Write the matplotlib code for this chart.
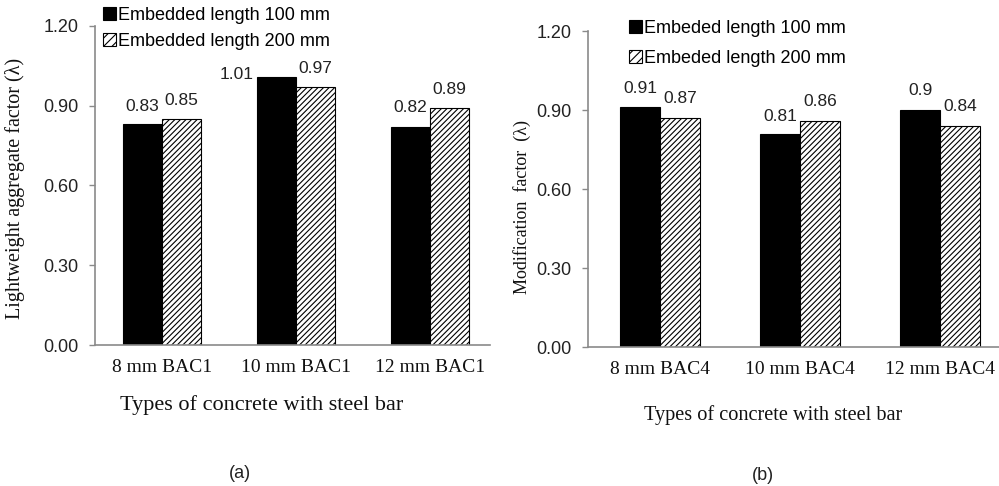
import matplotlib
matplotlib.use("Agg")
import matplotlib.pyplot as plt
from matplotlib.patches import Patch

categories_a = ["8 mm BAC1", "10 mm BAC1", "12 mm BAC1"]
len100_a = [0.83, 1.01, 0.82]
len200_a = [0.85, 0.97, 0.89]
labels100_a = ["0.83", "1.01", "0.82"]
labels200_a = ["0.85", "0.97", "0.89"]

categories_b = ["8 mm BAC4", "10 mm BAC4", "12 mm BAC4"]
len100_b = [0.91, 0.81, 0.90]
len200_b = [0.87, 0.86, 0.84]
labels100_b = ["0.91", "0.81", "0.9"]
labels200_b = ["0.87", "0.86", "0.84"]

yticks = [0.0, 0.3, 0.6, 0.9, 1.2]
ytick_labels = ["0.00", "0.30", "0.60", "0.90", "1.20"]

plt.rcParams['hatch.linewidth'] = 0.8
plt.rcParams['hatch.color'] = 'black'

SANS = ['Liberation Sans', 'DejaVu Sans']
SERIF = ['Liberation Serif', 'DejaVu Serif']
GRAY = '#8a8a8a'

fig = plt.figure(figsize=(9.99, 4.86), dpi=100)

def panel(rect, xlim, cats, v1, v2, l1, l2, w, offs1, leg_names, leg_anchor, leg_space, leg_size):
    ax = fig.add_axes(rect)
    x = list(range(len(cats)))
    ax.bar([i - w / 2 for i in x], v1, width=w, color='black', edgecolor='black', linewidth=0.8)
    ax.bar([i + w / 2 for i in x], v2, width=w, color='white', edgecolor='black', linewidth=0.8, hatch='//////')
    for i in x:
        dx, dy = offs1[i]
        ax.annotate(l1[i], (i - w / 2, v1[i]), xytext=(dx, dy), textcoords='offset points',
                    ha='center', va='center', fontsize=12.5, family=SANS, color='#222222')
        ax.annotate(l2[i], (i + w / 2, v2[i]), xytext=(0, 13.7), textcoords='offset points',
                    ha='center', va='center', fontsize=12.5, family=SANS, color='#222222')
    ax.set_xlim(*xlim)
    ax.set_ylim(0, 1.2)
    ax.set_yticks(yticks)
    ax.set_yticklabels(ytick_labels, fontsize=13, family=SANS, color='#222222')
    ax.set_xticks(x)
    ax.set_xticklabels(cats, fontsize=14, family=SERIF, color='#111111')
    ax.tick_params(axis='x', length=0, pad=10)
    ax.tick_params(axis='y', length=4, width=1, color=GRAY, pad=8)
    for s in ['top', 'right']:
        ax.spines[s].set_visible(False)
    for s in ['left', 'bottom']:
        ax.spines[s].set_color(GRAY)
        ax.spines[s].set_linewidth(1.2)
    handles = [Patch(facecolor='black', edgecolor='black', linewidth=0.8),
               Patch(facecolor='white', edgecolor='black', linewidth=0.8, hatch='////')]
    fig.legend(handles, leg_names, loc='upper left', bbox_to_anchor=leg_anchor,
               frameon=False, handlelength=0.7, handleheight=0.7, handletextpad=0.15,
               labelspacing=leg_space, borderaxespad=0, borderpad=0,
               prop={'family': SANS, 'size': leg_size})
    return ax

panel([95 / 999, 1 - 345 / 486, (490 - 95) / 999, (345 - 26) / 486], (-0.5, 2.448),
      categories_a, len100_a, len200_a, labels100_a, labels200_a, 0.29,
      [(0, 12.5), (-28.8, 1.4), (0, 13.7)],
      ["Embedded length 100 mm", "Embedded length 200 mm"], (103 / 999, 1 - 7 / 486), 0.5, 13)

panel([588 / 999, 1 - 347 / 486, (999 - 588) / 999, (347 - 31) / 486], (-0.514, 2.421),
      categories_b, len100_b, len200_b, labels100_b, labels200_b, 0.286,
      [(0, 13.7), (0, 12.5), (0, 13.7)],
      ["Embeded length 100 mm", "Embeded length 200 mm"], (629 / 999, 1 - 20 / 486), 0.7, 13)

fig.text(15 / 999, 1 - 188 / 486, "Lightweight aggregate factor (\u03bb)", rotation=90,
         ha='center', va='center', fontsize=14.5, family=SERIF, color='#111111')
fig.text(522 / 999, 1 - 207 / 486, "Modification  factor  (\u03bb)", rotation=90,
         ha='center', va='center', fontsize=13, family=SERIF, color='#111111')
fig.text(262 / 999, 1 - 405 / 486, "Types of concrete with steel bar",
         ha='center', va='center', fontsize=16, family=SERIF, color='#111111')
fig.text(773 / 999, 1 - 415 / 486, "Types of concrete with steel bar",
         ha='center', va='center', fontsize=14.6, family=SERIF, color='#111111')
fig.text(240 / 999, 1 - 473 / 486, "(a)", ha='center', va='center', fontsize=13, family=SANS, color='#222222')
fig.text(763 / 999, 1 - 475 / 486, "(b)", ha='center', va='center', fontsize=13, family=SANS, color='#222222')

fig.savefig("out.png", dpi=100)
